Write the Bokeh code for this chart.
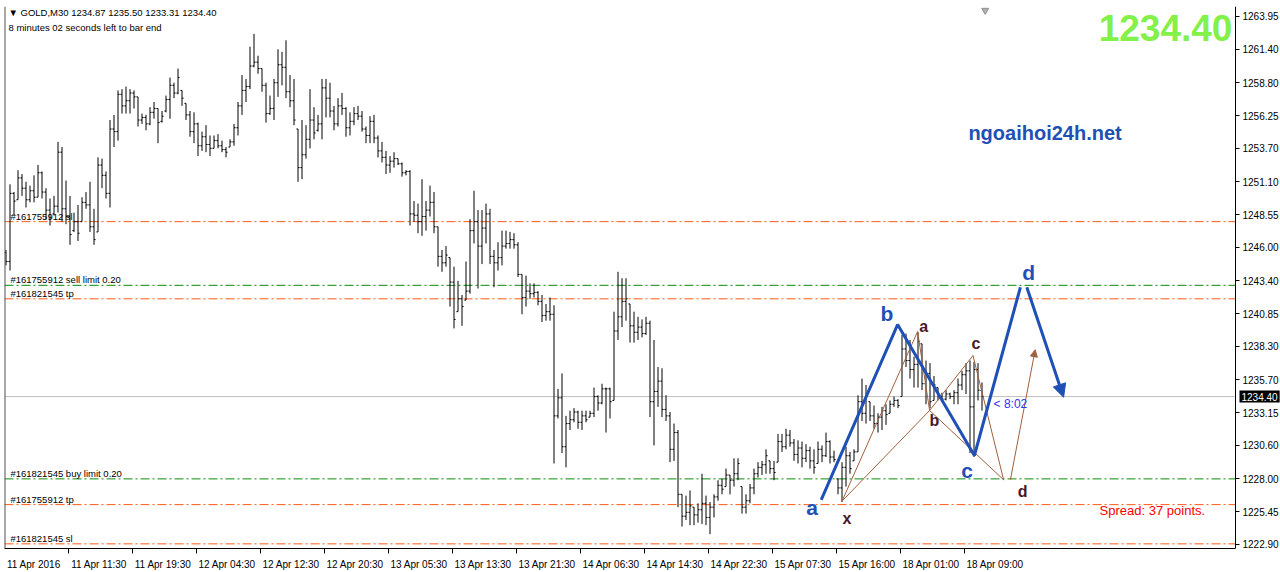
from bokeh.plotting import figure
from bokeh.models import (Range1d, FixedTicker, Span, Label, Arrow, NormalHead,
                          ColumnDataSource, NumeralTickFormatter, LinearAxis)
from bokeh.transform import dodge
from bokeh.embed import file_html
from bokeh.resources import INLINE

# ---------------- data (GOLD, M30) ----------------
highs = [1245.8,1250.9,1250.3,1252.0,1251.7,1251.1,1250.8,1251.6,1252.4,1251.9,
1250.6,1249.8,1250.0,1254.2,1253.8,1251.2,1250.0,1248.7,1249.3,1249.9,
1250.3,1251.1,1249.0,1253.0,1252.9,1251.9,1255.9,1256.3,1258.2,1258.3,
1258.5,1258.3,1258.2,1257.7,1256.4,1256.3,1256.9,1257.3,1256.8,1256.6,
1257.8,1259.2,1258.8,1259.9,1258.2,1257.2,1256.6,1256.5,1255.7,1255.0,
1255.5,1254.7,1254.7,1254.8,1254.3,1253.8,1254.4,1255.6,1257.3,1259.4,
1259.1,1261.6,1262.6,1260.9,1259.9,1258.8,1257.8,1259.1,1261.4,1261.2,
1262.1,1259.4,1259.1,1255.2,1255.9,1255.5,1258.3,1256.9,1256.3,1259.1,
1259.1,1258.8,1257.0,1257.6,1258.0,1256.9,1256.5,1256.9,1257.0,1256.6,
1255.4,1256.2,1256.3,1254.7,1254.2,1253.5,1253.1,1253.4,1252.9,1252.6,
1252.0,1252.0,1249.6,1249.4,1251.3,1249.6,1250.8,1250.3,1247.6,1245.8,
1246.1,1245.2,1244.5,1243.4,1242.3,1244.9,1248.2,1250.4,1248.9,1248.9,
1249.4,1249.0,1245.8,1246.4,1247.3,1247.3,1247.2,1247.1,1246.4,1243.9,
1243.8,1243.2,1243.2,1242.6,1242.3,1241.6,1242.1,1241.5,1235.0,1236.2,
1232.9,1233.3,1233.5,1233.3,1233.3,1233.3,1233.3,1235.1,1234.5,1235.4,
1235.1,1235.1,1241.0,1244.1,1243.6,1243.6,1241.6,1241.0,1240.6,1240.4,
1240.6,1240.3,1238.8,1236.7,1236.6,1234.5,1233.2,1232.3,1231.8,1226.8,
1226.7,1227.1,1225.8,1226.1,1228.4,1226.7,1226.2,1226.8,1227.9,1228.0,
1228.8,1228.3,1229.6,1229.6,1227.4,1226.8,1227.6,1228.8,1229.3,1229.4,
1230.3,1229.4,1229.4,1231.5,1231.5,1231.9,1231.8,1231.1,1231.0,1230.9,
1230.7,1230.5,1230.3,1230.9,1230.6,1231.6,1231.0,1230.2,1228.0,1229.3,
1230.5,1230.1,1230.3,1234.5,1235.8,1235.3,1234.0,1233.7,1233.1,1233.6,
1233.8,1234.1,1234.4,1234.2,1239.2,1239.3,1238.8,1237.5,1239.4,1238.5,
1237.2,1237.0,1236.0,1235.1,1234.7,1234.9,1234.7,1234.9,1235.8,1236.4,
1237.0,1237.2,1237.1,1237.0,1235.50]

lows = [1244.6,1244.2,1248.5,1249.7,1250.0,1249.1,1249.5,1249.5,1249.9,1249.8,
1248.2,1247.7,1248.5,1248.7,1248.0,1247.8,1246.2,1247.2,1246.5,1248.0,
1249.0,1247.2,1246.2,1247.2,1250.6,1249.8,1249.1,1253.8,1254.3,1256.4,
1256.4,1256.4,1256.8,1255.4,1255.6,1255.1,1255.5,1256.0,1254.1,1255.7,
1256.5,1256.0,1257.6,1257.9,1257.0,1255.9,1254.6,1254.1,1253.1,1253.5,
1253.4,1253.1,1253.7,1253.7,1253.4,1253.0,1253.8,1253.9,1254.7,1256.3,
1257.3,1258.3,1260.0,1259.5,1258.1,1255.7,1256.3,1255.9,1257.7,1258.6,
1257.6,1256.9,1255.5,1251.1,1251.3,1252.9,1253.7,1254.4,1255.0,1254.4,
1256.1,1256.1,1255.1,1255.4,1256.3,1254.6,1254.7,1255.5,1255.9,1255.0,
1254.1,1254.1,1254.1,1253.0,1252.6,1251.7,1251.8,1252.2,1252.4,1251.5,
1251.6,1247.7,1248.0,1247.1,1246.9,1247.3,1248.4,1247.1,1244.5,1244.1,
1244.5,1241.4,1239.7,1241.0,1239.9,1241.9,1242.4,1246.3,1242.8,1244.7,
1246.3,1244.7,1242.9,1244.2,1244.6,1245.9,1245.9,1245.9,1243.7,1240.8,
1241.4,1242.0,1242.1,1241.5,1240.2,1240.3,1240.3,1229.2,1232.7,1230.0,
1228.9,1231.8,1232.4,1231.9,1231.8,1232.4,1232.8,1232.8,1233.3,1233.8,
1231.6,1232.7,1234.1,1238.8,1239.8,1240.3,1238.6,1238.6,1238.8,1239.0,
1239.2,1232.8,1230.6,1233.6,1232.8,1232.5,1229.3,1229.4,1225.8,1224.3,
1224.8,1224.4,1224.4,1224.6,1224.5,1224.4,1223.7,1225.0,1226.3,1226.8,
1227.4,1226.8,1227.4,1227.9,1225.3,1225.3,1226.1,1226.8,1228.1,1228.3,
1228.4,1228.4,1227.9,1229.3,1230.1,1230.3,1230.5,1229.4,1229.2,1228.9,
1229.3,1228.8,1228.4,1229.2,1229.3,1229.7,1229.2,1229.3,1226.8,1226.2,
1227.4,1228.4,1229.4,1230.1,1232.5,1232.3,1232.5,1231.9,1231.6,1231.8,
1232.2,1233.1,1233.6,1233.5,1234.4,1236.7,1235.8,1235.1,1235.1,1234.9,
1233.8,1233.5,1234.1,1234.1,1234.0,1234.1,1234.2,1233.8,1233.8,1234.9,
1234.6,1230.0,1229.7,1234.1,1233.31]

opens = [1245.6,1244.9,1250.2,1249.7,1251.4,1250.6,1249.7,1250.4,1249.9,1251.8,
1250.3,1248.9,1248.6,1249.2,1253.4,1249.0,1248.4,1247.3,1248.0,1248.0,
1249.5,1249.3,1247.6,1247.2,1252.4,1251.6,1250.2,1255.2,1255.0,1257.9,
1257.0,1257.4,1258.0,1257.7,1255.9,1256.1,1255.6,1256.5,1256.8,1255.8,
1256.6,1257.5,1258.6,1258.0,1258.2,1257.2,1256.3,1255.0,1255.6,1253.9,
1254.6,1254.0,1253.7,1254.3,1253.9,1253.6,1253.8,1254.2,1255.3,1257.0,
1258.2,1258.5,1260.1,1260.4,1259.9,1258.6,1256.4,1256.8,1258.8,1260.2,
1260.0,1258.1,1257.4,1255.2,1252.2,1253.2,1254.4,1255.9,1255.1,1255.6,
1258.4,1257.6,1256.6,1255.6,1257.0,1256.8,1255.3,1255.8,1256.4,1256.2,
1255.2,1254.7,1255.8,1254.5,1253.5,1253.0,1252.4,1252.7,1252.9,1252.5,
1251.8,1251.9,1248.6,1248.5,1248.0,1248.4,1248.9,1249.5,1247.6,1245.3,
1244.8,1245.2,1243.3,1241.0,1242.0,1241.9,1242.6,1247.3,1248.0,1246.1,
1247.5,1248.6,1245.3,1244.8,1245.2,1246.1,1246.3,1246.6,1246.2,1243.9,
1242.1,1242.6,1242.4,1242.5,1241.8,1240.7,1241.0,1240.8,1232.9,1234.3,
1230.5,1232.3,1232.6,1233.2,1232.4,1232.9,1232.8,1233.1,1234.4,1233.9,
1235.0,1235.0,1234.1,1239.5,1240.6,1241.8,1241.6,1239.9,1239.4,1239.8,
1239.3,1240.1,1234.0,1234.8,1235.6,1233.4,1232.9,1230.3,1231.6,1226.8,
1225.1,1225.4,1225.8,1225.2,1225.6,1226.1,1225.0,1225.8,1226.6,1227.5,
1227.4,1228.3,1227.9,1228.4,1227.4,1225.8,1226.3,1227.3,1228.4,1228.9,
1229.1,1229.4,1228.8,1229.3,1230.9,1230.5,1231.4,1230.8,1229.9,1230.4,
1229.6,1230.2,1229.4,1229.2,1230.3,1229.8,1230.9,1229.7,1228.0,1227.3,
1228.9,1229.8,1229.4,1230.1,1234.0,1233.1,1234.0,1232.9,1232.3,1232.8,
1233.3,1233.1,1233.8,1234.1,1234.4,1238.1,1237.2,1236.5,1236.9,1238.5,
1235.4,1236.2,1234.1,1235.1,1234.4,1234.2,1234.6,1234.4,1234.7,1235.3,
1236.1,1236.4,1233.6,1236.5,1234.87]

closes = [1244.9,1250.2,1249.6,1251.4,1250.6,1249.7,1250.4,1249.9,1251.8,1250.3,
1248.9,1248.3,1249.2,1253.4,1249.0,1248.4,1247.0,1248.0,1247.1,1249.5,
1249.3,1247.6,1246.6,1252.4,1251.6,1250.2,1255.2,1255.0,1257.9,1257.0,
1257.4,1258.0,1257.7,1255.9,1256.1,1255.6,1256.5,1256.8,1255.7,1256.2,
1257.5,1258.6,1258.0,1259.2,1257.6,1256.3,1255.0,1255.6,1253.9,1254.6,
1254.0,1253.7,1254.3,1253.9,1253.6,1253.4,1254.2,1255.3,1257.0,1258.2,
1258.5,1260.1,1260.4,1259.9,1258.6,1256.4,1256.8,1258.8,1260.2,1260.0,
1258.1,1257.4,1255.9,1252.2,1253.2,1254.4,1255.9,1254.9,1255.6,1258.4,
1257.6,1256.6,1255.6,1257.0,1256.8,1255.3,1255.8,1256.4,1256.2,1255.2,
1254.7,1255.8,1254.5,1253.5,1253.0,1252.4,1252.7,1252.9,1252.5,1251.8,
1251.9,1248.6,1248.5,1248.0,1248.4,1248.9,1249.5,1247.6,1245.3,1244.8,
1245.4,1243.3,1240.4,1242.0,1241.4,1242.6,1247.3,1248.0,1246.1,1247.5,
1248.6,1245.3,1244.8,1245.2,1246.1,1246.3,1246.6,1246.2,1243.9,1242.1,
1242.6,1242.4,1242.5,1241.8,1240.7,1241.0,1240.8,1232.9,1234.3,1230.5,
1232.3,1232.6,1233.2,1232.4,1232.9,1232.6,1233.1,1234.4,1233.9,1235.0,
1235.0,1234.0,1239.5,1240.6,1241.8,1242.0,1239.9,1239.4,1239.8,1239.3,
1240.1,1234.0,1234.8,1235.6,1233.4,1232.9,1230.3,1231.6,1226.8,1225.1,
1225.4,1225.9,1225.2,1225.6,1226.1,1225.0,1225.8,1226.6,1227.5,1227.2,
1228.3,1227.9,1228.4,1229.2,1225.8,1226.3,1227.3,1228.4,1228.9,1229.1,
1229.8,1228.8,1228.5,1230.9,1230.5,1231.4,1230.8,1229.9,1230.4,1229.6,
1230.2,1229.4,1228.9,1230.3,1229.8,1230.9,1229.7,1229.5,1227.3,1228.9,
1229.8,1228.8,1230.1,1234.0,1233.1,1234.6,1232.9,1232.3,1232.8,1233.3,
1233.0,1233.8,1234.1,1233.7,1238.1,1237.2,1236.5,1236.9,1238.7,1235.4,
1236.2,1234.0,1235.3,1234.4,1234.2,1234.6,1234.4,1234.7,1235.3,1236.1,
1236.4,1233.6,1236.5,1234.9,1234.40]

bar_index = list(range(len(highs)))

date_ticks = [-0.4, 15.6, 31.6, 47.6, 63.6, 79.6, 95.6, 111.6, 127.6, 143.6,
              159.6, 175.6, 191.6, 207.6, 223.6, 239.6]
date_labels = ["11 Apr 2016", "11 Apr 11:30", "11 Apr 19:30", "12 Apr 04:30",
               "12 Apr 12:30", "12 Apr 20:30", "13 Apr 05:30", "13 Apr 13:30",
               "13 Apr 21:30", "14 Apr 06:30", "14 Apr 14:30", "14 Apr 22:30",
               "15 Apr 07:30", "15 Apr 16:00", "18 Apr 01:00", "18 Apr 09:00"]

price_ticks = [1222.90, 1225.45, 1228.00, 1230.60, 1233.15, 1235.70, 1238.30,
               1240.85, 1243.40, 1246.00, 1248.55, 1251.10, 1253.70, 1256.25,
               1258.80, 1261.40, 1263.95]

order_levels = [1248.00, 1243.05, 1242.00, 1228.00, 1226.00, 1222.95]
order_texts = ["#161755912 sl", "#161755912 sell limit 0.20", "#161821545 tp",
               "#161821545 buy limit 0.20", "#161755912 tp", "#161821545 sl"]
order_kinds = ["stop", "limit", "stop", "limit", "stop", "stop"]

bid_price = 1234.40
header_text = "\u25bc GOLD,M30  1234.87 1235.50 1233.31 1234.40"
timer_text = "8 minutes 02 seconds left to bar end"

# blue (large) a-b-c-d projection
blue_x = [203.8, 222.9, 242.1, 253.6]
blue_y = [1226.37, 1240.00, 1229.82, 1242.90]
blue_arrow = [255.2, 1242.90, 264.4, 1234.35]
blue_lbl_x = [201.5, 220.25, 240.25, 255.65]
blue_lbl_y = [1225.80, 1240.83, 1228.65, 1244.07]
blue_lbl_t = ["a", "b", "c", "d"]

# brown (small) x-a-b-c-d pattern
brown_pts = {"x": (209.0, 1226.27), "a": (227.9, 1239.46), "b": (230.9, 1233.32),
             "c": (241.75, 1237.59), "d": (249.4, 1227.93)}
brown_legs = [("x", "a"), ("a", "b"), ("b", "c"), ("c", "d"), ("x", "b"), ("b", "d")]
brown_arrow = [251.1, 1227.93, 257.3, 1238.04]
brown_lbl_x = [210.25, 229.4, 232.1, 242.5, 254.15]
brown_lbl_y = [1224.90, 1239.85, 1232.54, 1238.50, 1227.04]
brown_lbl_t = ["x", "a", "b", "c", "d"]

# ---------------- styles / layout ----------------
FONT = "Liberation Sans"
ORANGE = "#ff5a14"
GREEN = "#0a8a0a"
BLUE = "#1f50b5"
BROWN = "#a0603c"
DARK = "#4a1828"
DASH = "9 3 2 3"
PX_PER_BAR = 4.0
X0 = -0.375            # left edge of the price pane (bar units)
X_AXIS = 307.375       # right edge of the price pane, where the price scale sits
X_END = 318.625        # right edge of the canvas
Y_LO, Y_HI = 1222.588, 1264.727

p = figure(width=1280, height=572, output_backend="svg", toolbar_location=None,
           x_range=Range1d(X0, X_END), y_range=Range1d(Y_LO, Y_HI),
           y_axis_location=None, min_border_left=4, min_border_top=6,
           min_border_right=0, min_border_bottom=24)
p.background_fill_color = "white"
p.border_fill_color = "white"
p.outline_line_color = None
p.xgrid.visible = False
p.ygrid.visible = False

# x axis: date texts on major ticks (no marks), tick marks as minor ticks
label_px = [55.0 if s.endswith("2016") else 57.3 for s in date_labels]
label_centers = [t + (w / 2 + 2) / PX_PER_BAR for t, w in zip(date_ticks, label_px)]
xa = p.xaxis[0]
xa.ticker = FixedTicker(ticks=label_centers, minor_ticks=date_ticks)
xa.major_label_overrides = {c: s for c, s in zip(label_centers, date_labels)}
xa.bounds = (X0, X_AXIS)
xa.major_tick_in = 0
xa.major_tick_out = 0
xa.minor_tick_in = 0
xa.minor_tick_out = 5
xa.minor_tick_line_color = "black"
xa.axis_line_color = "black"
xa.major_label_text_font = FONT
xa.major_label_text_font_size = "10px"
xa.major_label_text_color = "black"
xa.major_label_standoff = 5

# price scale, pinned at the right edge of the price pane
ya = LinearAxis(fixed_location=X_AXIS, ticker=FixedTicker(ticks=price_ticks),
                formatter=NumeralTickFormatter(format="0.00"),
                major_tick_in=0, major_tick_out=4, minor_tick_line_color=None,
                axis_line_color="black", major_label_text_font=FONT,
                major_label_text_font_size="10px", major_label_text_color="black",
                major_label_standoff=3)
p.add_layout(ya, "right")

# left border of the pane
p.add_layout(Span(location=X0, dimension="height", line_color="#505050", line_width=2))

# order lines (stop at the price scale)
n = len(order_levels)
p.segment(x0=[X0] * n, y0=order_levels, x1=[X_AXIS] * n, y1=order_levels,
          line_color=[ORANGE if k == "stop" else GREEN for k in order_kinds],
          line_dash=DASH, line_width=1)
for lvl, txt in zip(order_levels, order_texts):
    p.add_layout(Label(x=1.1, y=lvl, text=txt, text_font=FONT,
                       text_font_size="9.5px", text_color="black",
                       text_baseline="bottom", text_align="left"))

# bid line
p.segment(x0=[X0], y0=[bid_price], x1=[X_AXIS], y1=[bid_price],
          line_color="#c0c0c0", line_width=1)

# OHLC bars
src = ColumnDataSource(dict(x=bar_index, h=highs, l=lows, o=opens, c=closes))
p.segment(x0="x", y0="l", x1="x", y1="h", source=src, line_color="black", line_width=1)
p.segment(x0=dodge("x", -0.4), y0="o", x1="x", y1="o", source=src,
          line_color="black", line_width=1)
p.segment(x0="x", y0="c", x1=dodge("x", 0.4), y1="c", source=src,
          line_color="black", line_width=1)

# chart-shift marker above the last bar
p.scatter(x=[bar_index[-1] + 0.8], y=[Y_HI - 0.3], marker="inverted_triangle",
          size=7, fill_color="#b0b0b0", line_color="#909090")

# brown pattern
bx0 = [brown_pts[a][0] for a, b in brown_legs]
by0 = [brown_pts[a][1] for a, b in brown_legs]
bx1 = [brown_pts[b][0] for a, b in brown_legs]
by1 = [brown_pts[b][1] for a, b in brown_legs]
p.segment(x0=bx0, y0=by0, x1=bx1, y1=by1, line_color=BROWN, line_width=1)
p.add_layout(Arrow(end=NormalHead(size=7, fill_color=BROWN, line_color=BROWN),
                   x_start=brown_arrow[0], y_start=brown_arrow[1],
                   x_end=brown_arrow[2], y_end=brown_arrow[3],
                   line_color=BROWN, line_width=1))
for x, y, t in zip(brown_lbl_x, brown_lbl_y, brown_lbl_t):
    p.add_layout(Label(x=x, y=y, text=t, text_font=FONT, text_font_size="16px",
                       text_font_style="bold", text_color=DARK,
                       text_align="center", text_baseline="middle"))

# blue projection
p.line(blue_x, blue_y, line_color=BLUE, line_width=3)
p.add_layout(Arrow(end=NormalHead(size=13, fill_color=BLUE, line_color=BLUE),
                   x_start=blue_arrow[0], y_start=blue_arrow[1],
                   x_end=blue_arrow[2], y_end=blue_arrow[3],
                   line_color=BLUE, line_width=3))
for x, y, t in zip(blue_lbl_x, blue_lbl_y, blue_lbl_t):
    p.add_layout(Label(x=x, y=y, text=t, text_font=FONT, text_font_size="21px",
                       text_font_style="bold", text_color=BLUE,
                       text_align="center", text_baseline="middle"))

# texts
p.add_layout(Label(x=X0, x_offset=4, y=1264.26, text=header_text, text_font=FONT,
                   text_font_size="9.5px", text_color="black",
                   text_baseline="middle", text_align="left"))
p.add_layout(Label(x=X0, x_offset=4, y=1263.09, text=timer_text, text_font=FONT,
                   text_font_size="9.5px", text_color="black",
                   text_baseline="middle", text_align="left"))
p.add_layout(Label(x=306.6, y=1263.02, text="1234.40", text_font=FONT,
                   text_font_size="37px", text_font_style="bold", text_color="#84f04a",
                   text_baseline="middle", text_align="right"))
p.add_layout(Label(x=240.6, y=1254.93, text="ngoaihoi24h.net", text_font=FONT,
                   text_font_size="20px", text_font_style="bold", text_color=BLUE,
                   text_baseline="middle", text_align="left"))
p.add_layout(Label(x=273.4, y=1225.54, text="Spread: 37 points.", text_font=FONT,
                   text_font_size="13px", text_color="#ff0000",
                   text_baseline="middle", text_align="left"))
p.add_layout(Label(x=246.9, y=1233.86, text="< 8:02", text_font=FONT,
                   text_font_size="12px", text_color="#3030ff",
                   text_baseline="middle", text_align="left"))
# current bid price tag on the price scale
p.add_layout(Label(x=X_AXIS, x_offset=4, y=bid_price, text="1234.40", text_font=FONT,
                   text_font_size="10px", text_color="white",
                   background_fill_color="black", padding=2,
                   text_baseline="middle", text_align="left"))

open("out.html", "w").write(file_html(p, INLINE))
